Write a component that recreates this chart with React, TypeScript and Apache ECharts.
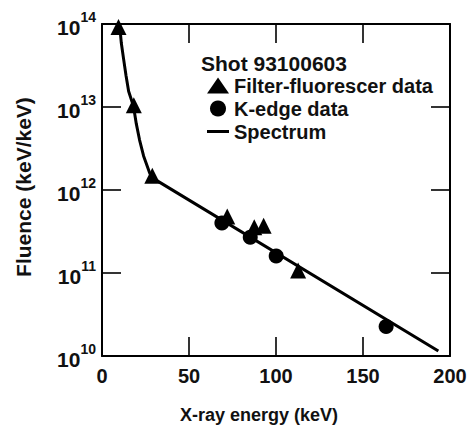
import React, { useEffect, useRef } from "react";
import * as echarts from "echarts";

const shotLabel = "Shot 93100603";
const xTicks = [0, 50, 100, 150, 200];
const yDecades = [10, 11, 12, 13, 14];

// Filter-fluorescer data (keV, keV/keV)
const filterData: [number, number][] = [
  [9.5, 9.2e13],
  [18.3, 1.05e13],
  [28.9, 1.48e12],
  [72, 4.8e11],
  [87.5, 3.55e11],
  [92.9, 3.7e11],
  [112.7, 1.07e11],
];

// K-edge data
const kEdgeData: [number, number][] = [
  [68.9, 4.0e11],
  [85.2, 2.7e11],
  [100.1, 1.6e11],
  [163.3, 2.26e10],
];

// Spectrum curve
const spectrumData: [number, number][] = [
  [10.1, 1.0e14],
  [11.1, 5.9e13],
  [12.4, 3.8e13],
  [13.8, 2.4e13],
  [15.3, 1.55e13],
  [18.1, 1.02e13],
  [19.7, 6.3e12],
  [21.6, 4.0e12],
  [23.9, 2.57e12],
  [27.3, 1.62e12],
  [28.7, 1.41e12],
  [193.3, 1.15e10],
];

const FONT = "Liberation Sans, Arial, Helvetica, sans-serif";
const INK = "#111";

export default function App() {
  const ref = useRef<HTMLDivElement>(null);

  useEffect(() => {
    if (!ref.current) return;
    const chart = echarts.init(ref.current, undefined, { renderer: "svg" });

    const axisLine = { show: true, onZero: false, lineStyle: { color: "#000", width: 2 } };
    const axisTick = { show: true, inside: true, length: 19, lineStyle: { color: "#000", width: 1.6 } };

    chart.setOption({
      animation: false,
      backgroundColor: "#fff",
      textStyle: { fontFamily: FONT },
      title: {
        text: shotLabel,
        left: 201,
        top: 53,
        padding: 0,
        textStyle: { fontFamily: FONT, fontSize: 21, fontWeight: "bold", color: INK },
      },
      legend: {
        orient: "vertical",
        left: 207,
        top: 74,
        padding: 0,
        itemWidth: 22,
        itemHeight: 16,
        itemGap: 0,
        itemTextGap: 6,
        symbolKeepAspect: true,
        textStyle: { fontFamily: FONT, fontSize: 20, fontWeight: "bold", color: INK, lineHeight: 23 },
        data: [
          { name: "Filter-fluorescer data", icon: "triangle", itemStyle: { color: "#000", opacity: 1 } },
          { name: "K-edge data", icon: "circle", itemStyle: { color: "#000", opacity: 1 } },
          { name: "Spectrum", icon: "path://M0,0 L22,0 L22,3 L0,3 Z", itemStyle: { color: "#000", opacity: 1 } },
        ],
      },
      grid: { left: 102, right: 23, top: 24, bottom: 64, containLabel: false },
      xAxis: [
        {
          type: "value",
          min: xTicks[0],
          max: xTicks[xTicks.length - 1],
          interval: 50,
          position: "bottom",
          axisLine,
          axisTick,
          splitLine: { show: false },
          axisLabel: {
            margin: 10,
            fontFamily: FONT,
            fontSize: 20,
            fontWeight: "bold",
            color: INK,
          },
          name: "X-ray energy (keV)",
          nameLocation: "middle",
          nameGap: 50,
          nameTextStyle: {
            fontFamily: FONT,
            fontSize: 18,
            fontWeight: "bold",
            color: INK,
            padding: [0, 34, 0, 0],
          },
        },
        {
          type: "value",
          min: xTicks[0],
          max: xTicks[xTicks.length - 1],
          interval: 50,
          position: "top",
          axisLine,
          axisTick,
          axisLabel: { show: false },
          splitLine: { show: false },
        },
      ],
      yAxis: [
        {
          type: "log",
          logBase: 10,
          min: Math.pow(10, yDecades[0]),
          max: Math.pow(10, yDecades[yDecades.length - 1]),
          position: "left",
          axisLine,
          axisTick,
          minorTick: { show: false },
          splitLine: { show: false },
          axisLabel: {
            margin: 6,
            formatter: (v: number) => `{b|10}{s|${Math.round(Math.log10(v))}}`,
            rich: {
              b: { fontFamily: FONT, fontSize: 21, fontWeight: "bold", color: INK, lineHeight: 28, verticalAlign: "bottom" },
              s: { fontFamily: FONT, fontSize: 14, fontWeight: "bold", color: INK, lineHeight: 12, verticalAlign: "top" },
            },
          },
          name: "Fluence (keV/keV)",
          nameLocation: "middle",
          nameGap: 68,
          nameTextStyle: {
            fontFamily: FONT,
            fontSize: 21,
            fontWeight: "bold",
            color: INK,
            padding: [0, 0, 0, 6],
          },
        },
        {
          type: "log",
          logBase: 10,
          min: Math.pow(10, yDecades[0]),
          max: Math.pow(10, yDecades[yDecades.length - 1]),
          position: "right",
          axisLine,
          axisTick,
          axisLabel: { show: false },
          splitLine: { show: false },
        },
      ],
      series: [
        {
          name: "Spectrum",
          type: "line",
          data: spectrumData,
          symbol: "none",
          showSymbol: false,
          smooth: false,
          lineStyle: { color: "#000", width: 3 },
          itemStyle: { color: "#000" },
          z: 2,
        },
        {
          name: "Filter-fluorescer data",
          type: "scatter",
          data: filterData,
          symbol: "triangle",
          symbolSize: 16,
          itemStyle: { color: "#000", opacity: 1 },
          z: 3,
        },
        {
          name: "K-edge data",
          type: "scatter",
          data: kEdgeData,
          symbol: "circle",
          symbolSize: 15,
          itemStyle: { color: "#000", opacity: 1 },
          z: 3,
        },
      ],
    });

    return () => chart.dispose();
  }, []);

  return (
    <div
      ref={ref}
      style={{ position: "absolute", left: 0, top: 0, width: 473, height: 429, background: "#fff" }}
    />
  );
}
